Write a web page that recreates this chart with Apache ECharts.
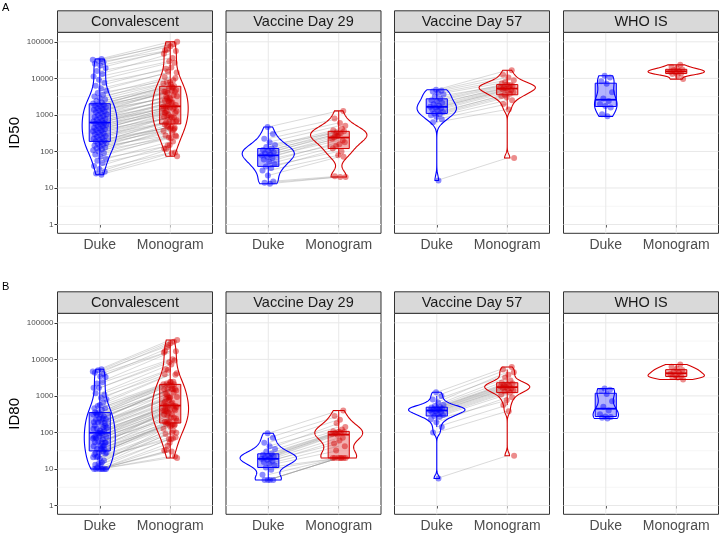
<!DOCTYPE html>
<html>
<head>
<meta charset="utf-8">
<script src="https://cdn.jsdelivr.net/npm/echarts@6/dist/echarts.min.js"></script>
<style>
html,body{margin:0;padding:0;background:#fff}
#chart{width:720px;height:534px}
</style>
</head>
<body>
<div id="chart"></div>
<script>
// ---- data (titres), one pair per subject ----
var conv50Duke = [23,25,28,33,40,48,56,63,72,83,
  91,100,107,115,123,129,138,145,155,162,170,178,186,
  195,209,224,234,251,263,282,295,316,331,355,372,389,407,427,447,479,501,525,550,575,603,
  631,661,692,741,776,832,871,933,1000,1047,1122,1175,1259,1318,1380,1445,1549,1622,1698,1778,1862,1950,2042,
  2188,2399,2630,2884,3162,3548,3981,4571,5248,6310,7586,9120,
  11220,13183,15849,19055,22387,25119,28184,30200,32359,33884];
var conv50Mono = [74,89,117,93,151,120,186,145,257,229,
  275,417,240,363,324,490,275,427,550,389,468,708,468,
  617,447,646,871,631,871,661,891,1148,851,1000,1479,851,1259,1148,1585,1148,1479,1738,1259,2188,1660,
  1622,2239,1698,2188,2818,1862,2692,2455,3467,2455,3236,4677,3162,4266,2951,4365,5495,3981,4786,6761,4266,6166,5495,
  7244,5754,7762,10233,7943,10965,8913,15136,14454,19953,18197,26915,
  29512,46774,36308,60256,56234,75858,58884,85114,81283,100000];
var d29_50Duke = [13,14,15,22,30,35,39,45,52,60,66,72,78,83,89,95,102,110,120,132,151,178,224,302,468];
var d29_50Mono = [20,20,21,71,79,120,100,141,178,158,240,200,263,224,316,282,355,302,380,417,331,501,603,794,1288];
var d57_50Duke = [16,631,759,891,977,1047,1096,1202,1318,1413,1514,1585,1660,1778,1950,2138,2344,2512,2754,3162,3631,3981,4365,4677,4898];
var d57_50Mono = [66,1413,1995,2512,3020,3311,3802,3548,4169,4571,5012,4786,5248,5623,6026,5495,6310,6761,7244,6607,7943,8913,10471,12589,16596];
var who50Duke = [912,1047,1585,1738,1995,2399,2818,4169,7079,8318,10471,11749];
var who50Mono = [9550,12023,13183,13646,14454,15136,15849,16596,17378,18621,20417,23442];

var conv80Duke = [10,10,10,10,10,10,11,10,13,13,
  17,14,21,15,21,26,19,25,30,22,28,35,28,
  35,28,42,38,35,52,43,54,43,56,68,54,69,52,79,74,66,98,78,95,76,110,
  95,126,98,126,155,112,155,138,186,135,195,224,182,240,191,240,302,229,302,355,275,355,309,
  417,331,457,562,457,646,525,813,891,1175,1072,1660,
  1660,2344,2188,3311,3388,4266,3981,5012,4677,5370];
var conv80Mono = [20,30,33,22,52,32,68,43,98,65,
  91,155,66,126,98,191,74,145,195,112,178,209,155,
  170,166,195,309,166,295,240,251,437,251,347,407,316,380,407,417,389,537,501,490,617,550,
  437,776,617,646,1072,525,912,676,1230,912,933,1549,832,1549,891,1514,1514,1514,1413,2399,1148,2089,1995,
  2089,1905,2188,3802,2399,3890,2455,5129,4169,7244,5370,9333,
  8318,15488,10000,21380,16596,27542,16982,30200,24547,33884];
var d29_80Duke = [5,5,5,5,7,9.5,11,12.6,14,15.5,16.6,17.8,19,20,21,22,23,24.5,26,30,35,42,52,71,95];
var d29_80Mono = [20,20,20,20,20,20,20,32,42,60,50,71,87,91,100,95,102,105,107,120,178,141,224,282,398];
var d57_80Duke = [5.5,100,141,191,229,263,282,302,324,347,363,380,398,417,427,447,457,479,490,525,575,661,794,1000,1259];
var d57_80Mono = [23,380,562,912,759,1096,1230,1318,1413,1514,1660,1585,1738,1820,1905,1995,2188,2089,2291,2630,3162,4467,3802,5248,6166];
var who80Duke = [240,251,263,275,316,398,501,708,1122,1380,1479,1585];
var who80Mono = [2818,3162,3311,3428,3631,3981,4365,4677,5129,5495,6310,7244];

var panelNames = ['Convalescent', 'Vaccine Day 29', 'Vaccine Day 57', 'WHO IS'];
var groupNames = ['Duke', 'Monogram'];
var rowNames = ['ID50', 'ID80'];
var rowTags = ['A', 'B'];
var yTicks = [1, 10, 100, 1000, 10000, 100000];

var rowsData = [
  [[conv50Duke, conv50Mono], [d29_50Duke, d29_50Mono], [d57_50Duke, d57_50Mono], [who50Duke, who50Mono]],
  [[conv80Duke, conv80Mono], [d29_80Duke, d29_80Mono], [d57_80Duke, d57_80Mono], [who80Duke, who80Mono]]
];
var pairedPanel = [true, true, true, false];

// ---- layout / style ----
var FONT = '"Liberation Sans", Arial, Helvetica, sans-serif';
var colLeft = [57.5, 226, 394.5, 563.5];
var panelW = 155;
var rowTop = [32.3, 313.3];
var panelH = 201;
var stripH = 21.5;
var yMin = -0.24, yMax = 5.26;
var xMin = 0.4, xMax = 2.6;
var colors = ['#0000ff', '#d40000'];
var fills = ['rgba(0,0,255,0.3)', 'rgba(212,0,0,0.3)'];
// max half-width of each violin, in x units
var violinHW = [
  [[0.25, 0.255], [0.37, 0.40], [0.28, 0.40], [0.16, 0.40]],
  [[0.22, 0.26], [0.40, 0.34], [0.40, 0.32], [0.18, 0.40]]
];
var boxHalf = 0.15;

// ---- helpers ----
function lg(v) { return Math.log(v) / Math.LN10; }
function quantile(s, p) {
  var h = (s.length - 1) * p, lo = Math.floor(h);
  if (lo + 1 >= s.length) return s[s.length - 1];
  return s[lo] + (h - lo) * (s[lo + 1] - s[lo]);
}
function sdev(a) {
  var m = 0, i;
  for (i = 0; i < a.length; i++) m += a[i];
  m /= a.length;
  var ss = 0;
  for (i = 0; i < a.length; i++) ss += (a[i] - m) * (a[i] - m);
  return Math.sqrt(ss / (a.length - 1));
}
function bwNrd0(s) {
  var lo = Math.min(sdev(s), (quantile(s, 0.75) - quantile(s, 0.25)) / 1.34);
  if (!lo) lo = sdev(s) || 1;
  return 0.9 * lo * Math.pow(s.length, -0.2);
}
// trimmed gaussian kde, widths scaled so the widest point = hw
function violinOutline(s, hw) {
  var bw = bwNrd0(s), K = 120, out = [], maxd = 0;
  var a = s[0], b = s[s.length - 1];
  for (var k = 0; k <= K; k++) {
    var y = a + (b - a) * k / K, d = 0;
    for (var i = 0; i < s.length; i++) {
      var z = (y - s[i]) / bw;
      d += Math.exp(-0.5 * z * z);
    }
    out.push([y, d]);
    if (d > maxd) maxd = d;
  }
  return out.map(function (p) { return [p[0], p[1] / maxd * hw]; });
}
function boxStats(s) {
  var q1 = quantile(s, 0.25), q2 = quantile(s, 0.5), q3 = quantile(s, 0.75);
  var iqr = q3 - q1, lo = q1, hi = q3;
  s.forEach(function (v) {
    if (v >= q1 - 1.5 * iqr && v < lo) lo = v;
    if (v <= q3 + 1.5 * iqr && v > hi) hi = v;
  });
  return [lo, q1, q2, q3, hi];
}
function jitter(i, g) {
  var f = ((i + 1) * 0.6180339887 + g * 0.37) % 1;
  return (f - 0.5) * 0.2;
}

var majorY = yTicks.map(lg);
var minorY = majorY.slice(0, -1).map(function (v) { return v + 0.5; });
var gridSpec = [];
majorY.forEach(function (v) { gridSpec.push([0, v]); });
minorY.forEach(function (v) { gridSpec.push([1, v]); });
[1, 2].forEach(function (v) { gridSpec.push([2, v]); });

var option = {
  animation: false,
  backgroundColor: '#fff',
  textStyle: { fontFamily: FONT },
  grid: [], xAxis: [], yAxis: [], series: [], graphic: []
};

rowTags.forEach(function (tag, r) {
  option.graphic.push({
    type: 'text', left: 2, top: r === 0 ? 2 : 281,
    style: { text: tag, font: '11px ' + FONT, fill: '#000' }
  });
});

for (var r = 0; r < 2; r++) {
  for (var c = 0; c < 4; c++) {
    (function (r, c) {
      var gi = r * 4 + c;
      var groups = rowsData[r][c];
      var logs = groups.map(function (g) { return g.map(lg); });
      var sorted = logs.map(function (g) { return g.slice().sort(function (a, b) { return a - b; }); });
      var outlines = sorted.map(function (s, g) { return violinOutline(s, violinHW[r][c][g]); });
      var stats = sorted.map(boxStats);

      option.grid.push({
        left: colLeft[c], top: rowTop[r], width: panelW, height: panelH,
        show: true, borderColor: '#333', borderWidth: 1, backgroundColor: '#fff'
      });
      option.xAxis.push({
        type: 'value', gridIndex: gi, min: xMin, max: xMax,
        axisLine: { show: false }, splitLine: { show: false },
        axisTick: { show: true, customValues: [1, 2], length: 3, lineStyle: { color: '#333' } },
        axisLabel: {
          customValues: [1, 2], margin: 5, fontSize: 14, color: '#4d4d4d',
          formatter: function (v) { return groupNames[Math.round(v) - 1]; }
        }
      });
      option.yAxis.push({
        type: 'value', gridIndex: gi, min: yMin, max: yMax,
        axisLine: { show: false }, splitLine: { show: false },
        axisTick: { show: c === 0, customValues: majorY, length: 3, lineStyle: { color: '#333' } },
        axisLabel: {
          show: c === 0, customValues: majorY, margin: 4, fontSize: 8, color: '#4d4d4d',
          formatter: function (v) { return String(yTicks[Math.round(v)]); }
        },
        name: c === 0 ? rowNames[r] : '', nameLocation: 'middle', nameGap: 35,
        nameTextStyle: { fontSize: 15, color: '#000' }
      });

      // strip
      option.graphic.push({
        type: 'rect', z: 10,
        shape: { x: colLeft[c], y: rowTop[r] - stripH, width: panelW, height: stripH },
        style: { fill: '#d9d9d9', stroke: '#333', lineWidth: 1 }
      });
      option.graphic.push({
        type: 'text', z: 11,
        x: colLeft[c] + panelW / 2, y: rowTop[r] - stripH / 2,
        style: {
          text: panelNames[c], font: '14.5px ' + FONT, fill: '#1a1a1a',
          align: 'center', verticalAlign: 'middle', textAlign: 'center', textVerticalAlign: 'middle'
        }
      });

      // grid lines
      option.series.push({
        type: 'custom', xAxisIndex: gi, yAxisIndex: gi, silent: true, z: 1,
        data: gridSpec,
        renderItem: function (params, api) {
          var kind = api.value(0), v = api.value(1), p1, p2;
          if (kind === 2) { p1 = api.coord([v, yMin]); p2 = api.coord([v, yMax]); }
          else { p1 = api.coord([xMin, v]); p2 = api.coord([xMax, v]); }
          return {
            type: 'line',
            shape: { x1: p1[0], y1: p1[1], x2: p2[0], y2: p2[1] },
            style: { stroke: kind === 1 ? '#f2f2f2' : '#e8e8e8', lineWidth: kind === 1 ? 0.7 : 1 }
          };
        }
      });

      // paired lines
      if (pairedPanel[c]) {
        option.series.push({
          type: 'custom', xAxisIndex: gi, yAxisIndex: gi, silent: true, z: 2,
          data: logs[0].map(function (v, i) { return [v, logs[1][i]]; }),
          renderItem: function (params, api) {
            var p1 = api.coord([1, api.value(0)]), p2 = api.coord([2, api.value(1)]);
            return {
              type: 'line',
              shape: { x1: p1[0], y1: p1[1], x2: p2[0], y2: p2[1] },
              style: { stroke: 'rgba(150,150,150,0.5)', lineWidth: 0.7 }
            };
          }
        });
      }

      // violins
      option.series.push({
        type: 'custom', xAxisIndex: gi, yAxisIndex: gi, silent: true, z: 3,
        data: [[1, 0], [2, 1]],
        renderItem: function (params, api) {
          var x0 = api.value(0), g = api.value(1), o = outlines[g], pts = [], k;
          for (k = 0; k < o.length; k++) pts.push(api.coord([x0 + o[k][1], o[k][0]]));
          for (k = o.length - 1; k >= 0; k--) pts.push(api.coord([x0 - o[k][1], o[k][0]]));
          return {
            type: 'polygon', shape: { points: pts },
            style: { fill: 'none', stroke: colors[g], lineWidth: 1.1 }
          };
        }
      });

      // boxes
      option.series.push({
        type: 'custom', xAxisIndex: gi, yAxisIndex: gi, silent: true, z: 4,
        data: [[1, 0], [2, 1]],
        renderItem: function (params, api) {
          var x0 = api.value(0), g = api.value(1), st = stats[g];
          var tl = api.coord([x0 - boxHalf, st[3]]), br = api.coord([x0 + boxHalf, st[1]]);
          var ml = api.coord([x0 - boxHalf, st[2]]), mr = api.coord([x0 + boxHalf, st[2]]);
          var wLo = api.coord([x0, st[0]]), wQ1 = api.coord([x0, st[1]]);
          var wQ3 = api.coord([x0, st[3]]), wHi = api.coord([x0, st[4]]);
          return {
            type: 'group',
            children: [
              { type: 'line', shape: { x1: wLo[0], y1: wLo[1], x2: wQ1[0], y2: wQ1[1] }, style: { stroke: colors[g], lineWidth: 1 } },
              { type: 'line', shape: { x1: wQ3[0], y1: wQ3[1], x2: wHi[0], y2: wHi[1] }, style: { stroke: colors[g], lineWidth: 1 } },
              { type: 'rect', shape: { x: tl[0], y: tl[1], width: br[0] - tl[0], height: br[1] - tl[1] },
                style: { fill: fills[g], stroke: colors[g], lineWidth: 1 } },
              { type: 'line', shape: { x1: ml[0], y1: ml[1], x2: mr[0], y2: mr[1] }, style: { stroke: colors[g], lineWidth: 1.8 } }
            ]
          };
        }
      });

      // jittered points
      logs.forEach(function (g, gIdx) {
        option.series.push({
          type: 'scatter', xAxisIndex: gi, yAxisIndex: gi, silent: true, z: 5,
          symbol: 'circle', symbolSize: 6,
          itemStyle: { color: colors[gIdx], opacity: 0.45 },
          data: g.map(function (v, i) { return [gIdx + 1 + jitter(i, gIdx), v]; })
        });
      });
    })(r, c);
  }
}

var chart = echarts.init(document.getElementById('chart'), null, { renderer: 'canvas' });
chart.setOption(option);
</script>
</body>
</html>
